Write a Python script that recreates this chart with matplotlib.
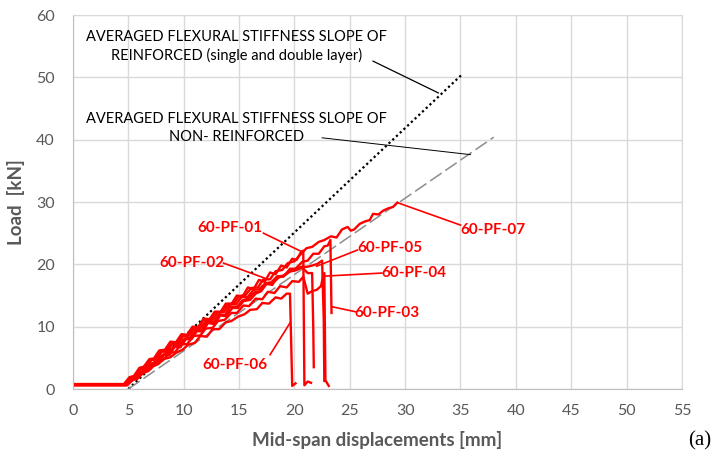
import matplotlib
matplotlib.use("Agg")
import matplotlib.pyplot as plt

plt.rcParams['font.family'] = ['Lato', 'DejaVu Sans']

# specimen curves: mid-span displacement [mm] vs load [kN]
pf01_x = [0, 4.7, 5.2, 5.6, 6.1, 6.5, 7.0, 7.5, 7.9, 8.4, 8.9, 9.3, 9.8, 10.3, 10.8, 11.3, 11.8, 12.3, 12.8, 13.3,
          13.8, 14.3, 14.8, 15.3, 15.8, 16.3, 16.8, 17.3, 17.8, 18.3, 18.8, 19.3, 19.8, 20.2, 20.6, 20.8, 20.85,
          20.9, 21.2, 21.5]
pf01_y = [0.7, 0.7, 1.6, 2.1, 3.2, 3.5, 4.6, 4.9, 6.0, 6.1, 7.3, 7.2, 8.6, 8.4, 9.9, 9.8, 11.1, 11.1, 12.4, 12.3,
          13.7, 13.6, 15.0, 14.8, 16.3, 16.0, 17.5, 17.2, 18.7, 18.4, 19.8, 19.5, 20.9, 20.7, 22.0, 22.2, 11.0,
          0.6, 1.2, 1.0]

pf02_x = [0, 4.9, 5.4, 5.8, 6.3, 6.8, 7.3, 7.7, 8.2, 8.7, 9.2, 9.7, 10.2, 10.7, 11.2, 11.7, 12.2, 12.8, 13.3, 13.8,
          14.4, 14.9, 15.4, 16.0, 16.5, 17.0, 17.5, 18.1, 18.6, 19.1, 19.7, 20.2, 20.7, 21.2, 21.6, 21.7, 21.75]
pf02_y = [0.6, 0.6, 1.5, 1.6, 2.9, 2.9, 4.2, 4.1, 5.5, 5.4, 6.8, 6.7, 8.0, 8.0, 9.3, 9.2, 10.6, 10.4, 11.8, 11.7,
          13.0, 13.0, 14.1, 14.3, 15.3, 15.7, 16.9, 17.1, 17.9, 18.2, 19.0, 19.1, 19.5, 18.6, 18.6, 10.0, 3.5]

pf03_x = [0, 4.8, 5.3, 5.7, 6.2, 6.7, 7.1, 7.6, 8.1, 8.6, 9.1, 9.6, 10.1, 10.6, 11.1, 11.6, 12.1, 12.7, 13.2, 13.7,
          14.2, 14.8, 15.3, 15.8, 16.4, 16.9, 17.4, 18.0, 18.5, 19.0, 19.6, 20.1, 20.7, 21.2, 21.7, 22.2, 22.7,
          23.0, 23.25, 23.3, 23.35]
pf03_y = [0.7, 0.7, 1.3, 1.8, 2.8, 3.2, 4.1, 4.5, 5.5, 5.8, 6.8, 7.1, 8.1, 8.3, 9.5, 9.4, 10.8, 10.7, 12.0, 11.8,
          13.2, 13.2, 14.2, 14.5, 15.5, 15.7, 16.9, 16.7, 18.1, 18.0, 19.3, 19.3, 20.4, 20.6, 21.7, 21.7, 22.9,
          23.0, 23.9, 18.0, 12.2]

pf04_x = [0, 4.9, 5.4, 5.9, 6.5, 7.0, 7.6, 8.1, 8.7, 9.2, 9.8, 10.3, 10.9, 11.5, 12.0, 12.6, 13.1, 13.7, 14.3, 14.8,
          15.4, 15.9, 16.5, 17.1, 17.6, 18.2, 18.7, 19.3, 19.8, 20.4, 20.8, 21.2, 21.6, 22.0, 22.4, 22.6, 22.7,
          22.75, 22.8, 23.1]
pf04_y = [0.7, 0.7, 1.7, 1.8, 3.1, 3.2, 4.5, 4.6, 5.8, 5.9, 7.2, 7.2, 8.5, 8.6, 9.7, 9.8, 10.9, 11.1, 12.2, 12.2,
          13.4, 13.3, 14.5, 14.4, 15.6, 15.4, 16.5, 16.3, 17.3, 17.2, 18.0, 15.3, 15.7, 15.9, 16.5, 18.2, 18.6,
          10.0, 1.4, 0.5]

pf05_x = [0, 4.7, 5.2, 5.7, 6.1, 6.6, 7.1, 7.6, 8.0, 8.5, 9.0, 9.5, 10.0, 10.5, 11.0, 11.5, 12.1, 12.6, 13.1, 13.6,
          14.2, 14.7, 15.2, 15.8, 16.3, 16.8, 17.4, 17.9, 18.4, 19.0, 19.5, 20.0, 20.6, 21.1, 21.6, 22.1, 22.5,
          22.65, 22.7]
pf05_y = [0.7, 0.7, 1.8, 2.0, 3.2, 3.3, 4.7, 4.7, 6.0, 6.0, 7.3, 7.3, 8.6, 8.6, 9.8, 9.8, 11.1, 11.1, 12.3, 12.3,
          13.6, 13.6, 14.7, 14.8, 15.9, 16.0, 17.0, 17.1, 18.0, 18.2, 18.8, 19.0, 19.6, 19.6, 19.8, 20.1, 20.6,
          11.0, 1.3]

pf06_x = [0, 4.8, 5.3, 5.8, 6.3, 6.8, 7.2, 7.7, 8.2, 8.8, 9.3, 9.9, 10.4, 11.0, 11.5, 12.1, 12.6, 13.2, 13.8, 14.3,
          14.9, 15.5, 16.0, 16.6, 17.1, 17.7, 18.3, 18.8, 19.3, 19.6, 19.7, 19.8, 20.1]
pf06_y = [0.6, 0.6, 1.4, 1.7, 2.5, 2.9, 3.6, 4.0, 4.8, 5.1, 5.8, 6.3, 7.1, 7.4, 8.5, 8.4, 9.6, 9.6, 10.7, 10.9,
          11.6, 12.0, 12.7, 12.8, 13.8, 13.7, 14.7, 14.5, 15.3, 15.3, 8.0, 0.5, 0.9]

pf07_x = [0, 4.6, 5.1, 5.5, 6.0, 6.4, 6.9, 7.3, 7.8, 8.3, 8.8, 9.3, 9.8, 10.3, 10.8, 11.3, 11.8, 12.4, 12.9, 13.4,
          14.0, 14.5, 15.0, 15.6, 16.1, 16.7, 17.2, 17.8, 18.3, 18.9, 19.4, 20.0, 20.5, 21.1, 21.6, 22.2, 22.7,
          23.3, 23.8, 24.3, 24.8, 25.1, 25.4, 25.9, 26.4, 26.8, 27.1, 27.6, 28.0, 28.5, 28.9, 29.3]
pf07_y = [0.8, 0.8, 1.9, 2.1, 3.4, 3.6, 4.8, 4.9, 6.2, 6.3, 7.6, 7.5, 8.8, 8.7, 10.0, 9.9, 11.3, 11.2, 12.4, 12.4,
          13.7, 13.7, 14.9, 15.1, 16.2, 16.3, 17.6, 17.6, 18.9, 19.1, 20.2, 20.5, 21.5, 22.6, 22.8, 23.6, 23.9,
          24.5, 24.3, 25.6, 26.0, 25.4, 25.6, 26.5, 26.9, 27.1, 28.1, 28.0, 28.6, 29.0, 29.2, 29.9]

# averaged stiffness slopes (start and end points)
reinf_x = [5, 35.1]
reinf_y = [0, 50.4]
nonreinf_x = [5, 38.0]
nonreinf_y = [0, 40.4]

curves = [(pf01_x, pf01_y), (pf02_x, pf02_y), (pf03_x, pf03_y), (pf04_x, pf04_y),
          (pf05_x, pf05_y), (pf06_x, pf06_y), (pf07_x, pf07_y)]

# label text position, leader start, leader end
labels = [("60-PF-01", (14.2, 25.8), (17.2, 25.0), (20.7, 22.0)),
          ("60-PF-02", (10.75, 20.2), (13.6, 20.2), (17.3, 17.8)),
          ("60-PF-05", (28.6, 22.6), (25.7, 22.3), (22.0, 19.7)),
          ("60-PF-04", (30.8, 18.6), (27.9, 18.6), (22.6, 18.1)),
          ("60-PF-03", (28.4, 12.2), (25.5, 12.4), (23.4, 13.2)),
          ("60-PF-06", (14.6, 3.85), (17.8, 5.5), (19.6, 10.6)),
          ("60-PF-07", (37.9, 25.5), (35.0, 26.3), (29.3, 29.9))]

fig = plt.figure(figsize=(7.27, 4.66), dpi=100)
ax = fig.add_axes([0.1004, 0.1652, 0.8376, 0.8026])

ax.grid(True, color='#d9d9d9', lw=1)
ax.set_axisbelow(True)

ax.plot(reinf_x, reinf_y, color='black', lw=1.6, ls=(0, (1, 1.3)))
ax.plot(nonreinf_x, nonreinf_y, color='#8c8c8c', lw=1.1, ls=(0, (9, 3)))

for cx, cy in curves:
    ax.plot(cx, cy, color='red', lw=1.7, solid_joinstyle='round')

for name, tpos, p0, p1 in labels:
    ax.text(tpos[0], tpos[1], name, color='red', fontsize=11, fontweight='bold',
            ha='center', va='center')
    ax.plot([p0[0], p1[0]], [p0[1], p1[1]], color='red', lw=1.2)

ax.text(14.8, 54.9, "AVERAGED FLEXURAL STIFFNESS SLOPE OF\nREINFORCED (single and double layer)",
        ha='center', va='center', fontsize=10.5, linespacing=1.35)
ax.plot([27.1, 33.0], [52.6, 47.5], color='black', lw=0.9)
ax.text(14.8, 41.9, "AVERAGED FLEXURAL STIFFNESS SLOPE OF\nNON- REINFORCED",
        ha='center', va='center', fontsize=10.5, linespacing=1.35)
ax.plot([22.5, 35.9], [40.3, 37.6], color='black', lw=0.7)

ax.set_xlim(0, 55)
ax.set_ylim(0, 60)
ax.set_xticks(range(0, 56, 5))
ax.set_yticks(range(0, 61, 10))
ax.tick_params(length=0, labelsize=11.5, colors='#595959')
ax.tick_params(axis='x', pad=11)
ax.tick_params(axis='y', pad=13)
for s in ['top', 'right']:
    ax.spines[s].set_color('#d9d9d9')
for s in ['left', 'bottom']:
    ax.spines[s].set_color('#bfbfbf')

ax.set_xlabel("Mid-span displacements [mm]", fontsize=13.5, fontweight='bold', color='#595959', labelpad=9)
ax.set_ylabel("Load  [kN]", fontsize=13.5, fontweight='bold', color='#595959', labelpad=8)

fig.text(0.963, 0.055, "(a)", fontsize=15, family='Liberation Serif', ha='center', va='center')

fig.savefig("out.png", dpi=100)
